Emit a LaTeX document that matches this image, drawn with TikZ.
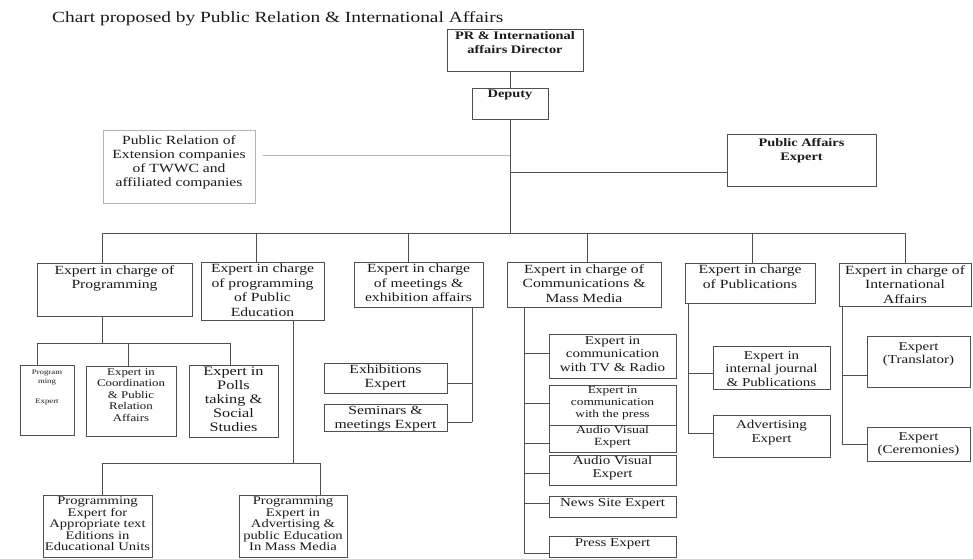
\documentclass[tikz,border=0pt]{standalone}
\usepackage{fontspec}
\setmainfont{Liberation Serif}[FakeStretch=1.25]

\definecolor{ink}{HTML}{1A1A1A}
\definecolor{rule}{HTML}{505050}
\definecolor{soft}{HTML}{B4B4B4}

% box with its caption set at the top edge
% #1 extra box options, #2 caption options, #3 name, #4-#7 corners (x1,y1,x2,y2), #8 caption
\newcommand{\orgbox}[8][]{%
  \node[box,#1,minimum width={(#6-#4)*1pt},minimum height={(#7-#5)*1pt}]
    (#3) at ({(#4+#6)/2},{(#5+#7)/2}) {};
  \node[txt,#2] (#3-t) at ([yshift=-2pt]#3.north) {#8};}

\tikzset{
  box/.style={draw=rule,line width=1pt,inner sep=0pt,outer sep=0pt},
  faintbox/.style={draw=soft,line width=0.8pt},
  txt/.style={anchor=north,align=center,inner sep=0pt,text=ink},
  link/.style={draw=rule,line width=1pt},
  faintlink/.style={draw=soft,line width=0.8pt},
  fA/.style={font=\fontsize{12.5}{14.5}\selectfont},
  fB/.style={font=\bfseries\fontsize{11.5}{14}\selectfont},
  fC/.style={font=\fontsize{12.5}{14}\selectfont},
  fD/.style={font=\fontsize{11.7}{11.5}\selectfont},
  fE/.style={font=\fontsize{12}{13.5}\selectfont},
  fF/.style={font=\fontsize{10.7}{12}\selectfont},
}

\begin{document}
\begin{tikzpicture}[x=1pt,y=-1pt]
\useasboundingbox (0,0) rectangle (973,558);
\fill[white] (0,0) rectangle (973,558);

\node[anchor=base west,inner sep=0pt,text=ink,font=\fontsize{15.5}{19}\selectfont]
  (title) at (52,22) {Chart proposed by Public Relation \& International Affairs};

% head of the department
\orgbox{fB}{dir}{447}{29}{583}{71}{PR \& International\\affairs Director}
\orgbox{fB}{dep}{472}{88}{548}{119}{Deputy}
\orgbox[faintbox]{fC,yshift=-3pt}{lb}{103}{130}{255}{203}{Public Relation of\\Extension companies\\of TWWC and\\affiliated companies}
\orgbox{fB,yshift=-2pt}{pa}{727}{134}{876}{186}{Public Affairs\\Expert}

% second level
\orgbox{fA}{p1}{37}{263}{192}{316}{Expert in charge of\\Programming}
\orgbox{fA}{p2}{201}{262}{324}{320}{Expert in charge\\of programming\\of Public\\Education}
\orgbox{fA}{p3}{354}{262}{483}{307}{Expert in charge\\of meetings \&\\exhibition affairs}
\orgbox{fA}{p4}{507}{262}{661}{307}{Expert in charge of\\Communications \&\\Mass Media}
\orgbox{fA}{p5}{685}{263}{815}{303}{Expert in charge\\of Publications}
\orgbox{fA}{p6}{839}{263}{971}{306}{Expert in charge of\\International\\Affairs}

% programming
\orgbox{font=\fontsize{7}{8.5}\selectfont,yshift=-3pt}{a}{20}{365}{74}{435}{Program\\ming\\[12pt]Expert}
\orgbox{font=\fontsize{10.3}{11.6}\selectfont}{b}{86}{366}{176}{436}{Expert in\\Coordination\\\& Public\\Relation\\Affairs}
\orgbox{font=\fontsize{13}{14}\selectfont}{c}{189}{365}{278}{437}{Expert in\\Polls\\taking \&\\Social\\Studies}

% public education
\orgbox{fD}{d}{43}{495}{152}{557}{Programming\\Expert for\\Appropriate text\\Editions in\\Educational Units}
\orgbox{fD}{e}{239}{495}{347}{557}{Programming\\Expert in\\Advertising \&\\public Education\\In Mass Media}

% meetings and exhibitions
\orgbox{fC}{f}{324}{363}{447}{393}{Exhibitions\\Expert}
\orgbox{fC}{g}{324}{404}{447}{431}{Seminars \&\\meetings Expert}

% communications and mass media
\orgbox{fE}{h}{549}{334}{676}{378}{Expert in\\communication\\with TV \& Radio}
\orgbox{fF,yshift=1pt}{i}{549}{385}{676}{425}{Expert in\\communication\\with the press}
\orgbox{font=\fontsize{11}{12}\selectfont,yshift=1pt}{j}{549}{425}{676}{452}{Audio Visual\\Expert}
\orgbox{font=\fontsize{12}{13}\selectfont,yshift=1pt}{k}{549}{455}{676}{485}{Audio Visual\\Expert}
\orgbox{fE}{l}{549}{496}{676}{517}{News Site Expert}
\orgbox{fE}{m}{549}{536}{676}{557}{Press Expert}

% publications
\orgbox{fE,yshift=-3pt}{n}{713}{346}{830}{389}{Expert in\\internal journal\\\& Publications}
\orgbox{fE,yshift=-3pt}{o}{713}{415}{830}{457}{Advertising\\Expert}

% international affairs
\orgbox{fE,yshift=-4pt}{tr}{867}{336}{970}{387}{Expert\\(Translator)}
\orgbox{fE,yshift=-3pt}{q}{867}{427}{970}{461}{Expert\\(Ceremonies)}

% junction points
\coordinate (bus) at (510,233);
\coordinate (d1) at (102,233);
\coordinate (d2) at (256,233);
\coordinate (d3) at (408,233);
\coordinate (d4) at (587,233);
\coordinate (d5) at (752,233);
\coordinate (d6) at (905,233);
\coordinate (lj) at (263,155);
\coordinate (pj) at (510,172);
\coordinate (j1) at (102,343);
\coordinate (j1a) at (37,343);
\coordinate (j1b) at (128,343);
\coordinate (j1c) at (230,343);
\coordinate (j2) at (293,463);
\coordinate (j2d) at (102,463);
\coordinate (j2e) at (320,463);
\coordinate (j3) at (472,383);
\coordinate (j3g) at (472,422);
\coordinate (j4) at (524,553);
\coordinate (j5) at (688,433);
\coordinate (j6) at (842,444);

% top spine
\draw[link] (dep.north |- dir.south) -- (dep.north);
\draw[link] (dep.south) -- (bus);
\draw[faintlink] (lj) -- (lj -| dep.south);
\draw[link] (pj) -- (pj -| pa.west);
\draw[link] (d1) -- (d6);
\foreach \k in {1,...,6} \draw[link] (d\k) -- (d\k |- p\k.north);

% programming branch
\draw[link] (j1 |- p1.south) -- (j1);
\draw[link] (j1a) -- (j1c);
\draw[link] (j1a) -- (j1a |- a.north);
\draw[link] (j1b) -- (j1b |- b.north);
\draw[link] (j1c) -- (j1c |- c.north);

% public education branch
\draw[link] (j2 |- p2.south) -- (j2);
\draw[link] (j2d) -- (j2e);
\draw[link] (j2d) -- (j2d |- d.north);
\draw[link] (j2e) -- (j2e |- e.north);

% meetings branch
\draw[link] (j3 |- p3.south) -- (j3g);
\draw[link] (j3) -- (j3 -| f.east);
\draw[link] (j3g) -- (j3g -| g.east);

% communications branch
\draw[link] (j4 |- p4.south) -- (j4);
\foreach \n/\yy in {h/353,i/403,j/443,k/473,l/503,m/553}
  \draw[link] (j4 |- 0,\yy) -- (\n.west |- 0,\yy);

% publications branch
\draw[link] (j5 |- p5.south) -- (j5);
\draw[link] (j5 |- 0,373) -- (n.west |- 0,373);
\draw[link] (j5) -- (j5 -| o.west);

% international branch
\draw[link] (j6 |- p6.south) -- (j6);
\draw[link] (j6 |- 0,375) -- (tr.west |- 0,375);
\draw[link] (j6) -- (j6 -| q.west);
\end{tikzpicture}
\end{document}
